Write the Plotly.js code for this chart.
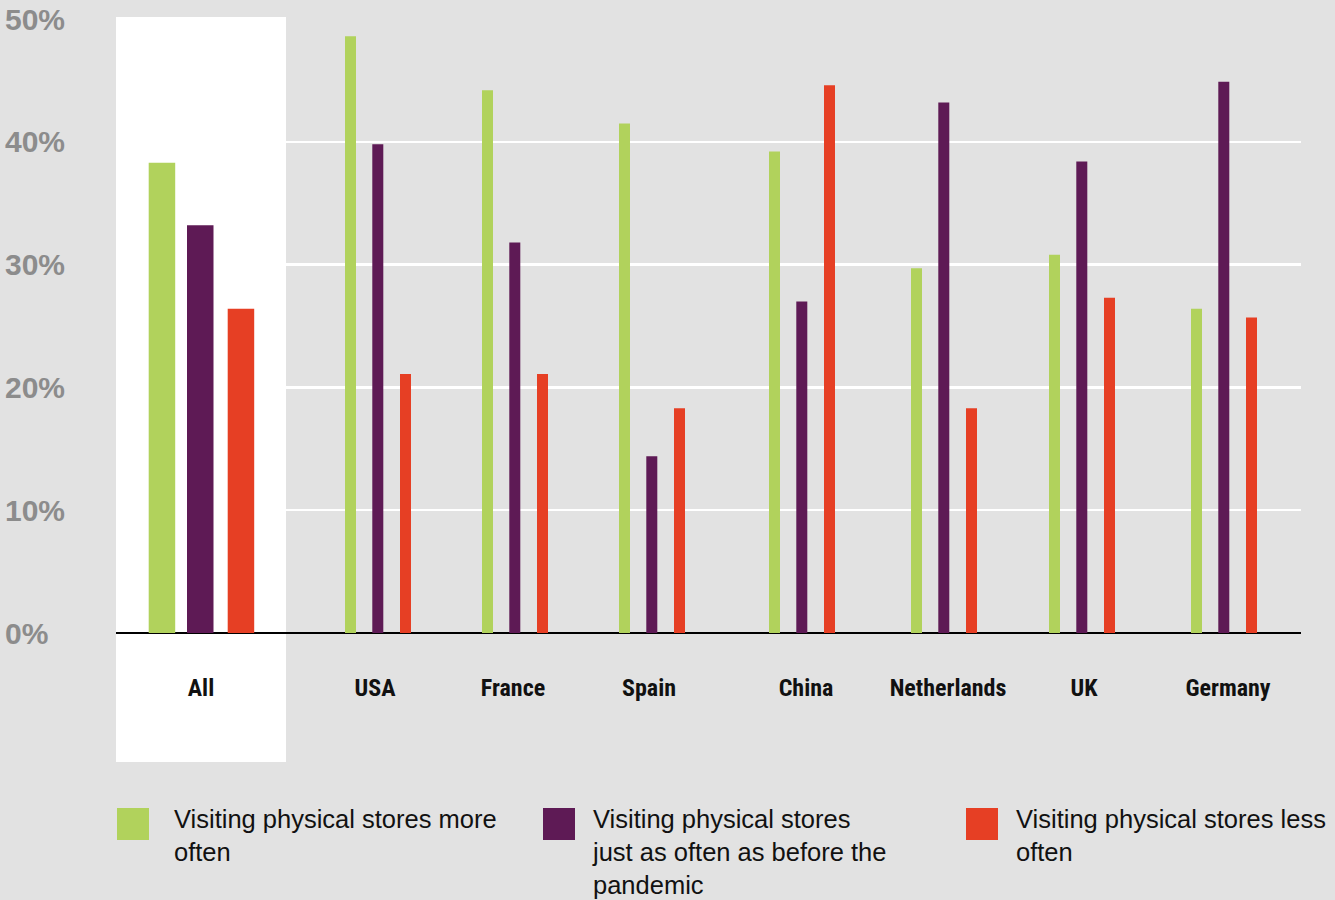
<!DOCTYPE html>
<html>
<head>
<meta charset="utf-8">
<script src="https://cdn.plot.ly/plotly-3.0.1.min.js"></script>
<style>
  html, body { margin: 0; padding: 0; background: #e2e2e2; }
  #chart { width: 1335px; height: 900px; }
</style>
</head>
<body>
<div id="chart"></div>
<script>
// ---- Data ----
const categories = ['All', 'USA', 'France', 'Spain', 'China', 'Netherlands', 'UK', 'Germany'];
const moreOften  = [38.3, 48.6, 44.2, 41.5, 39.2, 29.7, 30.8, 26.4];
const asOften    = [33.2, 39.8, 31.8, 14.4, 27.0, 43.2, 38.4, 44.9];
const lessOften  = [26.4, 21.1, 21.1, 18.3, 44.6, 18.3, 27.3, 25.7];
const seriesNames = [
  'Visiting physical stores more<br>often',
  'Visiting physical stores<br>just as often as before the<br>pandemic',
  'Visiting physical stores less<br>often'
];
const yTickVals   = [0, 10, 20, 30, 40, 50];
const yTickLabels = ['0%', '10%', '20%', '30%', '40%', '50%'];

// ---- Layout constants (positions / styles) ----
const colors = ['#b1d25c', '#5e1a55', '#e63f24'];
const W = 1335, H = 900;
const M = { l: 116, r: 34, t: 19, b: 267 };
const plotW = W - M.l - M.r;           // x-axis units = pixels across plot area
const plotH = H - M.t - M.b;
const groupCenter = [85, 262, 399, 536, 686, 828, 966, 1108];
const labelCenter = [85, 259, 397, 533, 690, 832, 968, 1112];
const barWidth   = categories.map((c, i) => i === 0 ? 26.5 : 11);
const barOffsets = [
  categories.map((c, i) => i === 0 ? -52.3 : -33),
  categories.map((c, i) => i === 0 ? -14 : -5.7),
  categories.map((c, i) => i === 0 ? 26.7 : 22)
];
const py2paper = py => (H - M.b - py) / plotH;
const px2x = px => px - M.l;

const seriesValues = [moreOften, asOften, lessOften];
const traces = seriesValues.map((vals, s) => ({
  type: 'bar',
  name: seriesNames[s],
  x: groupCenter,
  y: vals,
  width: barWidth,
  offset: barOffsets[s],
  marker: { color: colors[s], line: { width: 0 } },
  hoverinfo: 'y',
  showlegend: false
}));

const annotations = [];
yTickVals.forEach((v, i) => {
  annotations.push({
    xref: 'paper', x: (3 - M.l) / plotW, xanchor: 'left',
    yref: 'y', y: v, yanchor: 'middle',
    text: yTickLabels[i], showarrow: false,
    font: { family: 'Liberation Sans, Arial, sans-serif', size: 30, color: '#8c8c8c', weight: 'bold' }
  });
});

const legendSquareX = [117, 543, 966];
const legendTextX   = [172, 590, 1014];
const shapes = [
  {
    type: 'rect', layer: 'below',
    xref: 'x', x0: 0, x1: px2x(286),
    yref: 'paper', y0: py2paper(762), y1: py2paper(17),
    fillcolor: '#ffffff', line: { width: 0 }
  }
];
legendSquareX.forEach((sx, s) => {
  shapes.push({
    type: 'rect', xref: 'x', yref: 'paper',
    x0: px2x(sx), x1: px2x(sx + 32),
    y0: py2paper(840), y1: py2paper(808),
    fillcolor: colors[s], line: { width: 0 }
  });
  annotations.push({
    xref: 'x', x: px2x(legendTextX[s]), xanchor: 'left',
    yref: 'paper', y: py2paper(803), yanchor: 'top',
    align: 'left', showarrow: false,
    text: seriesNames[s],
    font: { family: 'Liberation Sans, Arial, sans-serif', size: 25.5, color: '#111111' }
  });
});

const layout = {
  width: W, height: H,
  margin: M,
  paper_bgcolor: '#e2e2e2',
  plot_bgcolor: '#e2e2e2',
  barmode: 'overlay',
  showlegend: false,
  xaxis: {
    range: [0, plotW],
    tickmode: 'array',
    tickvals: labelCenter,
    ticktext: categories,
    ticks: '',
    ticklabelstandoff: 38,
    showgrid: false,
    zeroline: false,
    showline: false,
    tickfont: { family: 'Liberation Sans Narrow, Arial Narrow, Roboto Condensed, DejaVu Sans Condensed, sans-serif', size: 24, color: '#111111', weight: 'bold' },
    fixedrange: true
  },
  yaxis: {
    range: [0, 50],
    tickmode: 'array',
    tickvals: yTickVals,
    showticklabels: false,
    ticks: '',
    showgrid: true,
    gridcolor: '#ffffff',
    gridwidth: 2.5,
    zeroline: true,
    zerolinecolor: '#000000',
    zerolinewidth: 2.5,
    showline: false,
    fixedrange: true
  },
  shapes: shapes,
  annotations: annotations
};

Plotly.newPlot('chart', traces, layout, { displayModeBar: false, staticPlot: true });
</script>
</body>
</html>
